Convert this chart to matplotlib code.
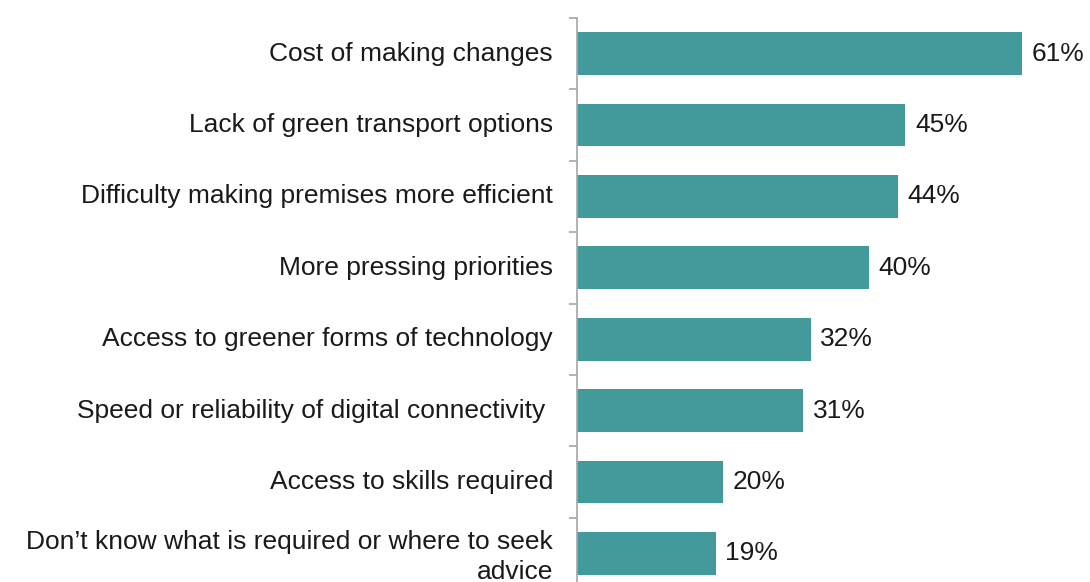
import matplotlib.pyplot as plt

plt.rcParams['font.family'] = ['Liberation Sans', 'DejaVu Sans']

# barriers to going green, share of businesses
categories = [
    'Cost of making changes',
    'Lack of green transport options',
    'Difficulty making premises more efficient',
    'More pressing priorities',
    'Access to greener forms of technology',
    'Speed or reliability of digital connectivity ',
    'Access to skills required',
    'Don\u2019t know what is required or where to seek\nadvice',
]
values = [61, 45, 44, 40, 32, 31, 20, 19]

bar_color = '#429a9a'
axis_color = '#a6a6a6'

fig = plt.figure(figsize=(10.9, 5.82), dpi=100)
# axes extend slightly past the bottom edge, so the last row is clipped
ax = fig.add_axes([577 / 1090, 1 - 589 / 582, 1 - 577 / 1090, 571 / 582])

y = list(range(len(categories)))
bars = ax.barh(y, values, height=0.6, color=bar_color)
ax.set_ylim(len(categories) - 0.5, -0.5)
ax.set_xlim(0, 70.3)

labels = ax.bar_label(bars, labels=[f'{v}%' for v in values],
                      padding=7, fontsize=19, color='#1a1a1a')

# category labels right-aligned just left of the axis
for i, name in enumerate(categories):
    ax.text(-3.3, i + 0.05 * name.count('\n'), name, ha='right', va='center',
            multialignment='right', fontsize=19, color='#1a1a1a',
            linespacing=1.3, clip_on=False)

# ticks sit on category boundaries
ax.set_yticks([i - 0.5 for i in range(len(categories) + 1)])
ax.set_yticklabels([])
ax.tick_params(axis='y', direction='out', length=6, width=1.2,
               color=axis_color)
ax.set_xticks([])

for side in ['top', 'right', 'bottom']:
    ax.spines[side].set_visible(False)
ax.spines['left'].set_color(axis_color)
ax.spines['left'].set_linewidth(1.2)

fig.savefig('out.png', dpi=100)
